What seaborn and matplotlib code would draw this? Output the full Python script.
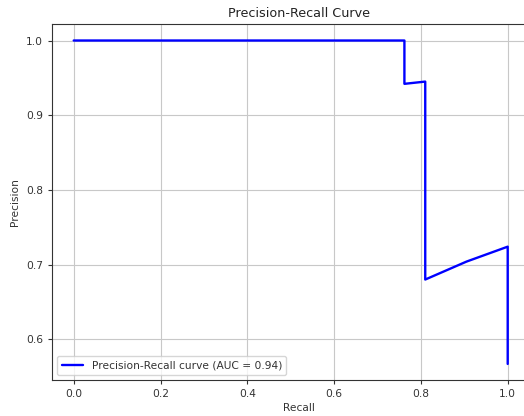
import matplotlib
matplotlib.use("Agg")
import matplotlib.pyplot as plt
import seaborn as sns
import pandas as pd

recall = [0.0, 0.762, 0.762, 0.810, 0.810, 0.905, 1.0, 1.0]
precision = [1.0, 1.0, 0.942, 0.945, 0.680, 0.704, 0.724, 0.567]
auc_label = "Precision-Recall curve (AUC = 0.94)"

sns.set_style("ticks")
plt.rcParams['font.family'] = ['DejaVu Sans']

fig = plt.figure(figsize=(5.24, 4.16), dpi=100)
left_px, right_px = 52, 545
ax = fig.add_axes([left_px/524, 36/416, (right_px-left_px)/524, (380-24.3)/416])

df = pd.DataFrame({"Recall": recall, "Precision": precision})
sns.lineplot(data=df, x="Recall", y="Precision", sort=False, estimator=None,
             color="blue", linewidth=1.7, label=auc_label, ax=ax)

ax.set_xlim(-0.05, -0.05 + (right_px-left_px)/434)
ax.set_ylim(0.5455, 1.0217)
ax.set_xticks([0.0, 0.2, 0.4, 0.6, 0.8, 1.0])
ax.set_yticks([0.6, 0.7, 0.8, 0.9, 1.0])
ax.grid(True, color="#c8c8c8", linewidth=0.8)
ax.tick_params(labelsize=7.7, colors="#333333", length=3)
for s in ax.spines.values():
    s.set_color("#333333")
    s.set_linewidth(0.8)
ax.set_xlabel("Recall", fontsize=7.7, color="#333333", labelpad=3)
ax.set_ylabel("Precision", fontsize=7.7, color="#333333", labelpad=4)
ax.set_title("Precision-Recall Curve", fontsize=9.2, color="#222222", pad=5)
leg = ax.legend(loc="lower left", fontsize=7.7, frameon=True)
for t in leg.get_texts():
    t.set_color("#333333")

fig.savefig("out.png", dpi=100)
